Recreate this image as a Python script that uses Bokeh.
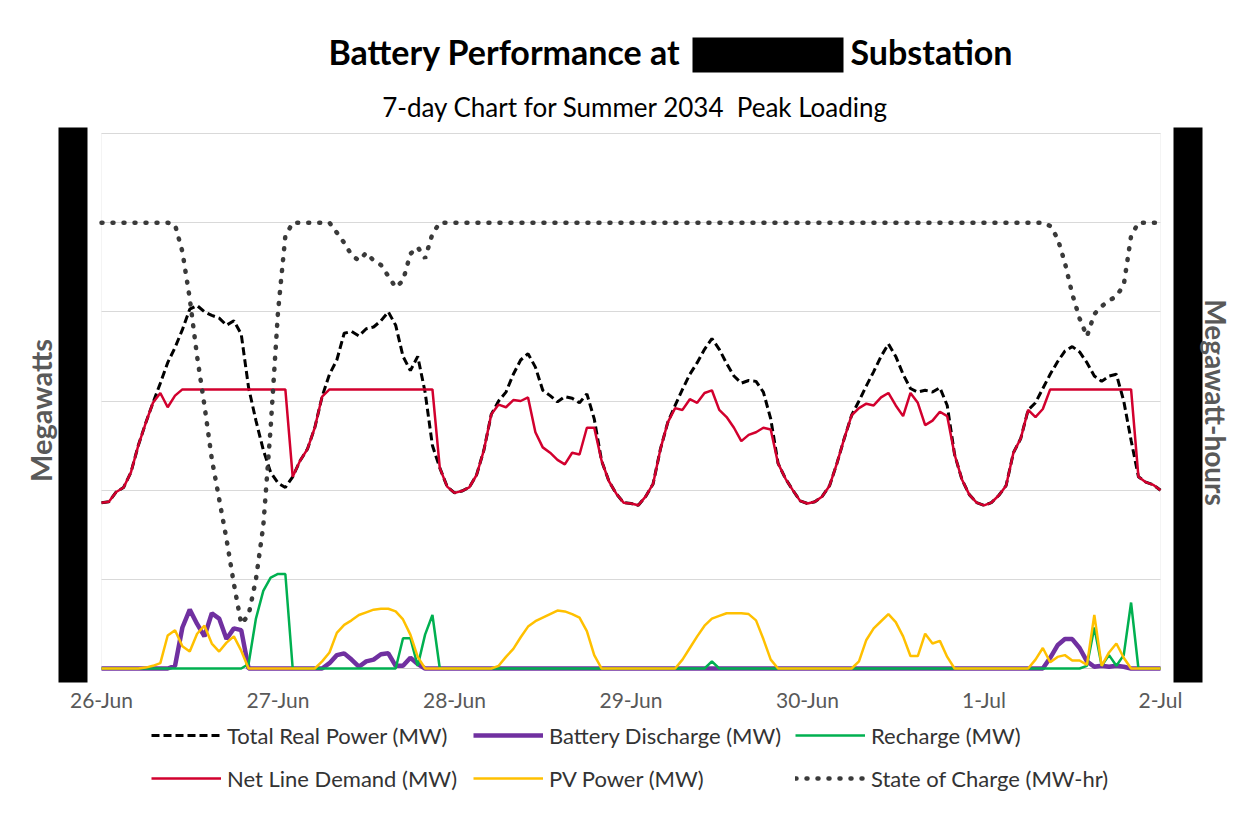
import math
from bokeh.plotting import figure
from bokeh.models import (Range1d, FixedTicker, LinearAxis, BoxAnnotation, Label,
                          Legend, LegendItem, Grid)
from bokeh.embed import file_html
from bokeh.resources import INLINE

# ---------------- data (hourly, 26-Jun 00:00 .. 2-Jul 00:00) ----------------
hours = list(range(145))
day_ticks = [0, 24, 48, 72, 96, 120, 144]
day_labels = ["26-Jun", "27-Jun", "28-Jun", "29-Jun", "30-Jun", "1-Jul", "2-Jul"]
mw_grid = [10, 20, 30, 40, 50, 60]

total_real_power = [
    18.6, 18.7, 19.8, 20.3, 22.0, 25.0, 27.5, 29.8, 32.0, 34.3, 36.0, 38.0,
    40.3, 40.7, 40.0, 39.6, 39.3, 38.5, 39.0, 37.5, 31.5, 27.8, 24.5, 22.0,
    20.8, 20.3, 21.5, 23.3, 24.6, 27.0, 30.5, 33.0, 34.6, 37.6, 37.8, 37.3,
    38.1, 38.3, 39.0, 40.0, 38.5, 35.0, 33.4, 35.0, 31.0, 25.0, 22.5, 20.4,
    19.7, 19.9, 20.3, 21.7, 24.5, 28.5, 30.0, 31.0, 33.0, 34.6, 35.3, 33.8,
    31.2, 30.6, 29.9, 30.5, 30.3, 29.8, 30.8, 28.0, 23.3, 21.0, 19.6, 18.6,
    18.5, 18.3, 19.3, 20.7, 24.6, 27.6, 29.5, 31.3, 33.0, 34.3, 35.8, 37.0,
    35.8, 34.2, 32.8, 32.0, 32.3, 32.2, 31.0, 28.0, 23.0, 21.3, 20.0, 18.8,
    18.5, 18.7, 19.3, 20.5, 23.0, 25.8, 28.4, 30.0, 31.7, 33.3, 35.0, 36.4,
    35.0, 33.0, 31.4, 31.0, 31.2, 31.0, 31.5, 29.5, 24.0, 21.2, 19.5, 18.6,
    18.3, 18.6, 19.4, 20.5, 24.2, 25.8, 29.0, 29.8, 31.4, 33.0, 34.4, 35.6,
    36.1, 35.5, 34.3, 32.8, 32.2, 32.8, 33.0, 30.0, 25.6, 21.5, 20.9, 20.6,
    20.0]

battery_discharge = [
    0.0, 0.0, 0.0, 0.0, 0.0, 0.0, 0.0, 0.0, 0.0, 0.0, 0.3, 4.6,
    6.6, 5.0, 3.6, 6.2, 5.6, 3.3, 4.5, 4.3, 0.0, 0.0, 0.0, 0.0,
    0.0, 0.0, 0.0, 0.0, 0.0, 0.0, 0.0, 0.6, 1.5, 1.7, 1.0, 0.2,
    0.8, 1.0, 1.6, 1.7, 0.3, 0.3, 1.2, 0.5, 0.0, 0.0, 0.0, 0.0,
    0.0, 0.0, 0.0, 0.0, 0.0, 0.0, 0.0, 0.0, 0.0, 0.0, 0.0, 0.0,
    0.0, 0.0, 0.0, 0.0, 0.0, 0.0, 0.0, 0.0, 0.0, 0.0, 0.0, 0.0,
    0.0, 0.0, 0.0, 0.0, 0.0, 0.0, 0.0, 0.0, 0.0, 0.0, 0.0, 0.0,
    0.0, 0.0, 0.0, 0.0, 0.0, 0.0, 0.0, 0.0, 0.0, 0.0, 0.0, 0.0,
    0.0, 0.0, 0.0, 0.0, 0.0, 0.0, 0.0, 0.0, 0.0, 0.0, 0.0, 0.0,
    0.0, 0.0, 0.0, 0.0, 0.0, 0.0, 0.0, 0.0, 0.0, 0.0, 0.0, 0.0,
    0.0, 0.0, 0.0, 0.0, 0.0, 0.0, 0.0, 0.0, 0.0, 1.2, 2.6, 3.3,
    3.3, 2.3, 0.8, 0.2, 0.3, 0.2, 0.3, 0.2, 0.0, 0.0, 0.0, 0.0,
    0.0]

recharge = [
    0.0, 0.0, 0.0, 0.0, 0.0, 0.0, 0.0, 0.0, 0.0, 0.0, 0.0, 0.0,
    0.0, 0.0, 0.0, 0.0, 0.0, 0.0, 0.0, 0.0, 0.5, 5.6, 8.7, 10.2,
    10.6, 10.6, 0.0, 0.0, 0.0, 0.0, 0.0, 0.0, 0.0, 0.0, 0.0, 0.0,
    0.0, 0.0, 0.0, 0.0, 0.0, 3.4, 3.4, 0.3, 3.8, 6.0, 0.0, 0.0,
    0.0, 0.0, 0.0, 0.0, 0.0, 0.0, 0.0, 0.0, 0.0, 0.0, 0.0, 0.0,
    0.0, 0.0, 0.0, 0.0, 0.0, 0.0, 0.0, 0.0, 0.0, 0.0, 0.0, 0.0,
    0.0, 0.0, 0.0, 0.0, 0.0, 0.0, 0.0, 0.0, 0.0, 0.0, 0.0, 0.8,
    0.0, 0.0, 0.0, 0.0, 0.0, 0.0, 0.0, 0.0, 0.0, 0.0, 0.0, 0.0,
    0.0, 0.0, 0.0, 0.0, 0.0, 0.0, 0.0, 0.0, 0.0, 0.0, 0.0, 0.0,
    0.0, 0.0, 0.0, 0.0, 0.0, 0.0, 0.0, 0.0, 0.0, 0.0, 0.0, 0.0,
    0.0, 0.0, 0.0, 0.0, 0.0, 0.0, 0.0, 0.0, 0.0, 0.0, 0.0, 0.0,
    0.0, 0.0, 0.3, 4.6, 0.3, 1.5, 0.3, 1.5, 7.4, 0.0, 0.0, 0.0,
    0.0]

net_line_demand = [
    18.6, 18.7, 19.8, 20.3, 22.0, 25.0, 27.5, 29.8, 30.9, 29.3, 30.6, 31.3,
    31.3, 31.3, 31.3, 31.3, 31.3, 31.3, 31.3, 31.3, 31.3, 31.3, 31.3, 31.3,
    31.3, 31.3, 21.5, 23.3, 24.6, 27.0, 30.5, 31.3, 31.3, 31.3, 31.3, 31.3,
    31.3, 31.3, 31.3, 31.3, 31.3, 31.3, 31.3, 31.3, 31.3, 31.3, 22.5, 20.4,
    19.7, 19.9, 20.3, 21.7, 24.5, 28.5, 29.6, 29.3, 30.1, 30.0, 30.4, 26.5,
    24.8, 24.2, 23.4, 22.9, 24.2, 24.0, 27.0, 27.0, 23.3, 21.0, 19.6, 18.6,
    18.5, 18.3, 19.3, 20.7, 24.6, 27.6, 29.2, 29.0, 30.2, 29.8, 30.9, 31.2,
    29.0, 28.2, 27.0, 25.5, 26.2, 26.5, 27.0, 26.8, 23.0, 21.3, 20.0, 18.8,
    18.5, 18.7, 19.3, 20.5, 23.0, 25.8, 28.4, 29.2, 29.7, 29.5, 30.4, 30.9,
    29.5, 28.3, 30.9, 29.8, 27.3, 27.8, 28.8, 28.3, 24.0, 21.2, 19.5, 18.6,
    18.3, 18.6, 19.4, 20.5, 24.2, 25.8, 29.0, 28.2, 29.1, 31.3, 31.3, 31.3,
    31.3, 31.3, 31.3, 31.3, 31.3, 31.3, 31.3, 31.3, 31.3, 21.5, 20.9, 20.6,
    20.0]

pv_power = [
    0.0, 0.0, 0.0, 0.0, 0.0, 0.0, 0.1, 0.3, 0.6, 3.7, 4.3, 2.5,
    1.9, 3.9, 4.8, 2.8, 1.9, 2.9, 3.6, 2.0, 0.0, 0.0, 0.0, 0.0,
    0.0, 0.0, 0.0, 0.0, 0.0, 0.0, 0.8, 1.8, 4.0, 4.9, 5.4, 6.0,
    6.3, 6.6, 6.7, 6.7, 6.4, 5.5, 3.8, 1.3, 0.0, 0.0, 0.0, 0.0,
    0.0, 0.0, 0.0, 0.0, 0.0, 0.0, 0.3, 1.3, 2.2, 3.5, 4.7, 5.3,
    5.7, 6.1, 6.5, 6.4, 6.1, 5.7, 4.2, 1.5, 0.0, 0.0, 0.0, 0.0,
    0.0, 0.0, 0.0, 0.0, 0.0, 0.0, 0.0, 1.0, 2.3, 3.6, 4.8, 5.6,
    5.9, 6.2, 6.2, 6.2, 6.1, 5.4, 3.3, 1.0, 0.0, 0.0, 0.0, 0.0,
    0.0, 0.0, 0.0, 0.0, 0.0, 0.0, 0.0, 0.8, 3.2, 4.5, 5.3, 6.1,
    5.2, 3.6, 1.4, 1.4, 3.9, 2.8, 3.1, 1.3, 0.0, 0.0, 0.0, 0.0,
    0.0, 0.0, 0.0, 0.0, 0.0, 0.0, 0.0, 1.0, 2.3, 0.7, 1.3, 1.5,
    0.9, 0.9, 0.4, 6.0, 0.3, 1.8, 2.8, 1.2, 0.0, 0.0, 0.0, 0.0,
    0.0]

state_of_charge = [   # MW-hr, secondary axis
    40.0, 40.0, 40.0, 40.0, 40.0, 40.0, 40.0, 40.0, 40.0, 40.0, 39.8, 37.4,
    33.2, 28.0, 23.6, 18.8, 15.2, 11.6, 7.6, 4.0, 4.8, 8.0, 12.8, 21.6,
    32.0, 38.8, 40.0, 40.0, 40.0, 40.0, 40.0, 40.0, 39.1, 38.2, 37.1, 36.6,
    37.3, 36.6, 36.2, 35.2, 34.2, 34.8, 37.2, 37.8, 36.8, 39.0, 40.0, 40.0,
    40.0, 40.0, 40.0, 40.0, 40.0, 40.0, 40.0, 40.0, 40.0, 40.0, 40.0, 40.0,
    40.0, 40.0, 40.0, 40.0, 40.0, 40.0, 40.0, 40.0, 40.0, 40.0, 40.0, 40.0,
    40.0, 40.0, 40.0, 40.0, 40.0, 40.0, 40.0, 40.0, 40.0, 40.0, 40.0, 40.0,
    40.0, 40.0, 40.0, 40.0, 40.0, 40.0, 40.0, 40.0, 40.0, 40.0, 40.0, 40.0,
    40.0, 40.0, 40.0, 40.0, 40.0, 40.0, 40.0, 40.0, 40.0, 40.0, 40.0, 40.0,
    40.0, 40.0, 40.0, 40.0, 40.0, 40.0, 40.0, 40.0, 40.0, 40.0, 40.0, 40.0,
    40.0, 40.0, 40.0, 40.0, 40.0, 40.0, 40.0, 40.0, 40.0, 39.7, 38.6, 36.4,
    33.6, 31.4, 29.8, 31.8, 32.5, 33.0, 33.4, 34.4, 38.8, 40.0, 40.0, 40.0,
    40.0]

FONT = "Lato"
GRAY = "#595959"

# ---------------- layout geometry (frame = whole canvas) ----------------
W, H = 1236, 812
PX_L, PX_R = 101, 1160         # plot area left/right, canvas px
PY_T, PY_B = 133, 668          # plot area top/bottom, canvas px (from top)
x0, x1 = 0, 144                # hours shown
y0, y1 = 0, 60                 # MW shown
kx = (PX_R - PX_L) / (x1 - x0)
ky = (PY_B - PY_T) / (y1 - y0)
x_start = x0 - PX_L / kx
x_end = x1 + (W - PX_R) / kx
y_start = y0 - (H - PY_B) / ky
y_end = y1 + PY_T / ky
MWH_FACTOR = 0.8               # secondary axis: 48 MW-hr at top of plot area

p = figure(width=W, height=H, output_backend="svg", toolbar_location=None,
           x_range=Range1d(x_start, x_end), y_range=Range1d(y_start, y_end),
           x_axis_location=None, y_axis_location=None, min_border=0)
p.extra_y_ranges = {"mwh": Range1d(y_start * MWH_FACTOR, y_end * MWH_FACTOR)}
p.background_fill_color = "white"
p.border_fill_color = "white"
p.outline_line_color = None
p.grid.visible = False

# horizontal gridlines only over the plot area
try:
    grid = Grid(dimension=1, ticker=FixedTicker(ticks=mw_grid),
                grid_line_color="#d9d9d9", grid_line_width=1, cross_bounds=(x0, x1))
    p.add_layout(grid, "center")
except Exception:
    p.multi_line(xs=[[x0, x1] for _ in mw_grid], ys=[[g, g] for g in mw_grid],
                 line_color="#d9d9d9", line_width=1)

# plot-area border
p.add_layout(BoxAnnotation(left=x0, right=x1, bottom=y0, top=y1, fill_alpha=0,
                           line_color="#d9d9d9", line_width=1, level="underlay"))

# x axis, pinned at y = 0
xa = LinearAxis(fixed_location=0, ticker=FixedTicker(ticks=day_ticks),
                bounds=(x0, x1), level="underlay")
xa.major_label_overrides = {t: l for t, l in zip(day_ticks, day_labels)}
xa.major_tick_line_color = None
xa.minor_tick_line_color = None
xa.axis_line_color = "#bfbfbf"
xa.major_label_text_font = FONT
xa.major_label_text_font_size = "21px"
xa.major_label_text_color = GRAY
xa.major_label_standoff = 12
p.add_layout(xa, "below")
p.add_layout(LinearAxis(y_range_name="mwh", visible=False), "right")

# ---------------- series ----------------
r_total = p.line(hours, total_real_power, line_color="black", line_width=3,
                 line_dash="8 4")
r_dis = p.line(hours, battery_discharge, line_color="#7030A0", line_width=4.5)
r_rec = p.line(hours, recharge, line_color="#00B050", line_width=2.5)
r_net = p.line(hours, net_line_demand, line_color="#D2002E", line_width=2.5)
r_pv = p.line(hours, pv_power, line_color="#FFC000", line_width=2.5)
r_soc = p.line(hours, state_of_charge, y_range_name="mwh", line_color="#3a3a3a",
               line_width=4.5, line_dash="1 10", line_cap="round")

# ---------------- legend: two rows ----------------
def make_legend(items, loc):
    lg = Legend(items=items, orientation="horizontal", location=loc)
    lg.label_text_font = FONT
    lg.label_text_font_size = "22px"
    lg.label_text_color = "#333333"
    lg.glyph_width = 70
    lg.glyph_height = 28
    lg.label_height = 28
    lg.label_width = 233
    lg.label_standoff = 6
    lg.spacing = 13
    lg.padding = 0
    lg.margin = 0
    lg.border_line_color = None
    lg.background_fill_alpha = 0
    p.add_layout(lg, "center")

make_legend([LegendItem(label="Total Real Power (MW)", renderers=[r_total]),
             LegendItem(label="Battery Discharge (MW)", renderers=[r_dis]),
             LegendItem(label="Recharge (MW)", renderers=[r_rec])], (151, 63))
make_legend([LegendItem(label="Net Line Demand (MW)", renderers=[r_net]),
             LegendItem(label="PV Power (MW)", renderers=[r_pv]),
             LegendItem(label="State of Charge (MW-hr)", renderers=[r_soc])], (151, 20))

# ---------------- redaction bars and titles (canvas px, y from bottom) ----------------
def black_box(l, r, t, b):
    p.add_layout(BoxAnnotation(left=l, right=r, top=t, bottom=b,
                               left_units="screen", right_units="screen",
                               top_units="screen", bottom_units="screen",
                               fill_color="black", fill_alpha=1, line_color=None))

black_box(58, 87, 685, 130)       # left bar
black_box(1173, 1202, 685, 130)   # right bar
black_box(692, 843, 775, 740)     # redaction in title

def add_text(x, y, text, size, align="center", bold=False, color="black", angle=0.0):
    p.add_layout(Label(x=x, y=y, x_units="screen", y_units="screen", text=text,
                       text_font=FONT, text_font_size=size, text_align=align,
                       text_baseline="middle", text_color=color,
                       text_font_style="bold" if bold else "normal", angle=angle))

add_text(680, 761, "Battery Performance at", "34px", align="right", bold=True)
add_text(850, 761, "Substation", "34px", align="left", bold=True)
add_text(635, 706, "7-day Chart for Summer 2034 \u00a0Peak Loading", "26px")
add_text(40, 402, "Megawatts", "29px", bold=True, color=GRAY, angle=math.pi / 2)
add_text(1215, 410, "Megawatt-hours", "28px", bold=True, color=GRAY, angle=-math.pi / 2)

open("out.html", "w").write(file_html(p, INLINE))
